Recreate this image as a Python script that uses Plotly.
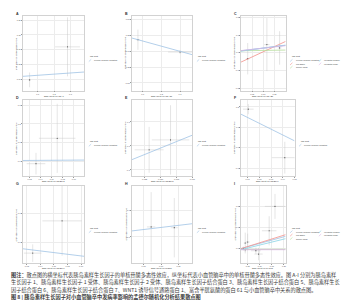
import plotly.graph_objects as go

W, H = 354, 300

# ---------------- data ----------------
panel_letters = ["A", "B", "C", "D", "E", "F", "G", "H", "I"]
x_titles = ["SNP effect on IGF-1", "SNP effect on IGF-1R", "SNP effect on IGF-2R",
            "SNP effect on IGFBP-3", "SNP effect on IGFBP-5", "SNP effect on IGFBP-6",
            "SNP effect on IGFBP-7", "SNP effect on WISP1", "SNP effect on CYR61"]
y_title = "SNP effect on small vessel stroke"
legend_title = "MR Test"
methods = ["Inverse variance weighted", "MR Egger", "Simple mode", "Weighted median", "Weighted mode"]

# SNP effects (exposure beta, outcome beta, se's) per panel
a_bx = [0.050, 0.282];  a_by = [-0.003, 0.109];  a_sx = [0.008, 0.076];  a_sy = [0.025, 0.100]
b_bx = [0.075, 0.300];  b_by = [0.184, -0.011];  b_sx = [0.010, 0.064];  b_sy = [0.160, 0.030]
c_bx = [0.030, 0.116, 0.173]; c_by = [-0.034, 0.046, 0.027]; c_sx = [0.008, 0.012, 0.008]; c_sy = [0.089, 0.150, 0.095]
d_bx = [0.0317, 0.070]; d_by = [-0.013, 0.123]; d_sx = [0.0168, 0.033]; d_sy = [0.058, 0.185]
e_bx = [0.032, 0.0656]; e_by = [-0.0165, 0.025]; e_sx = [0.0227, 0.0294]; e_sy = [0.096, 0.145]
f_bx = [0.0106, 0.0417]; f_by = [0.189, -0.049]; f_sx = [0.0045, 0.011]; f_sy = [0.025, 0.078]
g_bx = [0.0287, 0.072]; g_by = [-0.038, 0.073]; g_sx = [0.013, 0.029]; g_sy = [0.030, 0.120]
h_bx = [0.0717, 0.138]; h_by = [0.037, 0.034]; h_sx = [0.012, 0.010]; h_sy = [0.130, 0.111]
i_bx = [0.032, 0.040, 0.050, 0.040, 0.084, 0.095, 0.139, 0.163]
i_by = [-0.003, 0.024, 0.029, -0.008, -0.013, -0.029, 0.083, 0.200]
i_sx = [0.005, 0.006, 0.008, 0.005, 0.020, 0.017, 0.030, 0.042]
i_sy = [0.010, 0.050, 0.040, 0.010, 0.015, 0.030, 0.070, 0.060]

# MR estimates: (intercept, slope) per method
a_mr = {"Inverse variance weighted": (0.0087, 0.039)}
b_mr = {"Inverse variance weighted": (0.245, -0.817)}
c_mr = {"Inverse variance weighted": (0.011, 0.155), "MR Egger": (-0.053, 0.585),
        "Simple mode": (0.011, 0.020), "Weighted median": (0.009, 0.170),
        "Weighted mode": (0.012, 0.140)}
d_mr = {"Inverse variance weighted": (0.004, 0.020)}
e_mr = {"Inverse variance weighted": (-0.063, 1.080)}
f_mr = {"Inverse variance weighted": (0.177, -2.870)}
g_mr = {"Inverse variance weighted": (-0.019, -0.287)}
h_mr = {"Inverse variance weighted": (0.0194, 0.156)}
i_mr = {"Inverse variance weighted": (-0.010, 0.320), "MR Egger": (-0.011, 0.363),
        "Simple mode": (-0.007, 0.005), "Weighted median": (-0.0145, 0.287),
        "Weighted mode": (-0.008, 0.000)}

# tick values
a_xt = [0.1, 0.2, 0.3];                 a_yt = [0.0, 0.05, 0.10, 0.15, 0.20]
b_xt = [0.1, 0.2, 0.3];                 b_yt = [-0.50, -0.25, 0.00, 0.25, 0.50]
c_xt = [0.05, 0.10, 0.15];              c_yt = [-0.2, -0.1, 0.0, 0.1, 0.2]
d_xt = [0.02, 0.04, 0.06, 0.08, 0.10];  d_yt = [0.0, 0.1, 0.2, 0.3]
e_xt = [0.025, 0.050, 0.075, 0.100];    e_yt = [-0.1, 0.0, 0.1]
f_xt = [0.01, 0.02, 0.03, 0.04, 0.05];  f_yt = [-0.1, 0.0, 0.1, 0.2]
g_xt = [0.02, 0.04, 0.06, 0.08, 0.10];  g_yt = [0.0, 0.1]
h_xt = [0.05, 0.10, 0.15];              h_yt = [-0.1, 0.0, 0.1]
i_xt = [0.05, 0.10, 0.15, 0.20];        i_yt = [0.0, 0.1, 0.2]

xfmt = [".1f", ".1f", ".2f", ".2f", ".3f", ".2f", ".2f", ".2f", ".2f"]
yfmt = [".2f", ".2f", ".1f", ".1f", ".1f", ".1f", ".1f", ".1f", ".1f"]

caption_lines = [
    "<b>图注：</b>散点图的横坐标代表胰岛素样生长因子的单核苷酸多态性效应，纵坐标代表小血管脑卒中的单核苷酸多态性效应。图 A-I 分别为胰岛素样",
    "生长因子 1、胰岛素样生长因子 1 受体、胰岛素样生长因子 2 受体、胰岛素样生长因子结合蛋白 3、胰岛素样生长因子结合蛋白 5、胰岛素样生长",
    "因子结合蛋白 6、胰岛素样生长因子结合蛋白 7、WNT1 诱导信号通路蛋白 1、富含半胱氨酸的蛋白 61 与小血管脑卒中关系的散点图。",
    "<b>图 8 | 胰岛素样生长因子对小血管脑卒中发病率影响的孟德尔随机化分析结果散点图</b>",
]

# ---------------- layout geometry (pixels) ----------------
method_colors = {"Inverse variance weighted": "#9fc3e4", "MR Egger": "#f2908a",
                 "Simple mode": "#b5dd9b", "Weighted median": "#88d3e6",
                 "Weighted mode": "#dcb2e6"}

panels = [
    dict(bx=a_bx, by=a_by, sx=a_sx, sy=a_sy, mr=a_mr, xt=a_xt, yt=a_yt, xr=[0.009, 0.385], yr=[-0.039, 0.2136]),
    dict(bx=b_bx, by=b_by, sx=b_sx, sy=b_sy, mr=b_mr, xt=b_xt, yt=b_yt, xr=[0.043, 0.366], yr=[-0.619, 0.558]),
    dict(bx=c_bx, by=c_by, sx=c_sx, sy=c_sy, mr=c_mr, xt=c_xt, yt=c_yt, xr=[0.0, 0.2], yr=[-0.214, 0.208]),
    dict(bx=d_bx, by=d_by, sx=d_sx, sy=d_sy, mr=d_mr, xt=d_xt, yt=d_yt, xr=[0.008, 0.119], yr=[-0.079, 0.328]),
    dict(bx=e_bx, by=e_by, sx=e_sx, sy=e_sy, mr=e_mr, xt=e_xt, yt=e_yt, xr=[0.005, 0.100], yr=[-0.126, 0.192]),
    dict(bx=f_bx, by=f_by, sx=f_sx, sy=f_sy, mr=f_mr, xt=f_xt, yt=f_yt, xr=[0.0044, 0.050], yr=[-0.139, 0.234]),
    dict(bx=g_bx, by=g_by, sx=g_sx, sy=g_sy, mr=g_mr, xt=g_xt, yt=g_yt, xr=[0.0142, 0.1048], yr=[-0.072, 0.193]),
    dict(bx=h_bx, by=h_by, sx=h_sx, sy=h_sy, mr=h_mr, xt=h_xt, yt=h_yt, xr=[0.0166, 0.190], yr=[-0.098, 0.190]),
    dict(bx=i_bx, by=i_by, sx=i_sx, sy=i_sy, mr=i_mr, xt=i_xt, yt=i_yt, xr=[0.0225, 0.207], yr=[-0.072, 0.298]),
]

col_px = [(15, 77), (125, 186), (235, 280)]
col_px_f = (235, 289)
row_px = [(8, 82.5), (92, 168), (178, 255)]


def fx(px):
    return px / W


def fy(py):
    return 1 - py / H


fig = go.Figure()
annotations = []
shapes = []
FONT = "Liberation Sans, Arial, sans-serif"

for k, p in enumerate(panels):
    r, c = divmod(k, 3)
    x0, x1 = col_px_f if k == 5 else col_px[c]
    y0, y1 = row_px[r]
    n = "" if k == 0 else str(k + 1)
    xa, ya = "x" + n, "y" + n

    # SNP points with error bars
    fig.add_trace(go.Scatter(
        x=p["bx"], y=p["by"], mode="markers", xaxis=xa, yaxis=ya, showlegend=False,
        marker=dict(size=1.2, color="#555555"),
        error_x=dict(type="data", array=p["sx"], color="#c4c4c4", thickness=0.45, width=0),
        error_y=dict(type="data", array=p["sy"], color="#c4c4c4", thickness=0.45, width=0),
        hoverinfo="skip"))
    # MR lines
    for m, (b0, b1) in p["mr"].items():
        xs = p["xr"]
        fig.add_trace(go.Scatter(
            x=xs, y=[b0 + b1 * v for v in xs], mode="lines", xaxis=xa, yaxis=ya,
            showlegend=False, line=dict(color=method_colors[m], width=0.8), hoverinfo="skip"))

    axis_common = dict(showgrid=True, gridcolor="#ececec", gridwidth=0.4, zeroline=False,
                       showline=True, mirror=True, linecolor="#d2d2d2", linewidth=0.4,
                       ticks="outside", ticklen=1, tickwidth=0.3, tickcolor="#999999",
                       tickfont=dict(size=2.1, color="#555555", family=FONT))
    fig.layout["xaxis" + n] = dict(axis_common, domain=[fx(x0), fx(x1)], range=p["xr"],
                                   anchor=ya, tickvals=p["xt"],
                                   ticktext=[format(v, xfmt[k]) for v in p["xt"]])
    fig.layout["yaxis" + n] = dict(axis_common, domain=[fy(y1), fy(y0)], range=p["yr"],
                                   anchor=xa, tickvals=p["yt"],
                                   ticktext=[format(v, yfmt[k]) for v in p["yt"]])

    # panel letter
    annotations.append(dict(x=fx(x0 - 9), y=fy(y0 - 2), xref="paper", yref="paper",
                            text="<b>" + panel_letters[k] + "</b>", showarrow=False,
                            xanchor="left", yanchor="middle",
                            font=dict(size=3.6, color="#333333", family=FONT)))
    # axis titles
    annotations.append(dict(x=fx((x0 + x1) / 2), y=fy(y1 + 5.2), xref="paper", yref="paper",
                            text=x_titles[k], showarrow=False, xanchor="center", yanchor="middle",
                            font=dict(size=2.2, color="#333333", family=FONT)))
    annotations.append(dict(x=fx(x0 - 7), y=fy((y0 + y1) / 2), xref="paper", yref="paper",
                            text=y_title, showarrow=False, textangle=-90, xanchor="center",
                            yanchor="middle", font=dict(size=2.2, color="#333333", family=FONT)))

    # legend (drawn manually)
    lx = x1 + 4
    ly = (y0 + y1) / 2 + 3
    annotations.append(dict(x=fx(lx), y=fy(ly), xref="paper", yref="paper", text=legend_title,
                            showarrow=False, xanchor="left", yanchor="middle",
                            font=dict(size=2.2, color="#333333", family=FONT)))
    items = list(p["mr"].keys())
    for j, m in enumerate(items):
        colj, rowj = (0, j) if len(items) == 1 else ((0, j) if j < 3 else (1, j - 3))
        gx = lx + 0.5 + colj * 29
        gy = ly + 4.2 + rowj * 3.4
        shapes.append(dict(type="line", xref="paper", yref="paper",
                           x0=fx(gx), y0=fy(gy + 1.1), x1=fx(gx + 2.4), y1=fy(gy - 1.1),
                           line=dict(color=method_colors[m], width=0.6)))
        annotations.append(dict(x=fx(gx + 3.5), y=fy(gy), xref="paper", yref="paper", text=m,
                                showarrow=False, xanchor="left", yanchor="middle",
                                font=dict(size=2.0, color="#444444", family=FONT)))

# caption
cap_y = [266.8, 274.3, 281.8, 289.0]
for t, yy in zip(caption_lines, cap_y):
    annotations.append(dict(x=fx(1.5), y=fy(yy), xref="paper", yref="paper", text=t,
                            showarrow=False, xanchor="left", yanchor="middle",
                            font=dict(size=5.2, color="#3a3a3a", family="Noto Sans CJK SC")))

fig.update_layout(width=W, height=H, margin=dict(l=0, r=0, t=0, b=0),
                  paper_bgcolor="white", plot_bgcolor="white",
                  annotations=annotations, shapes=shapes, showlegend=False)
fig.write_html("out.html")
